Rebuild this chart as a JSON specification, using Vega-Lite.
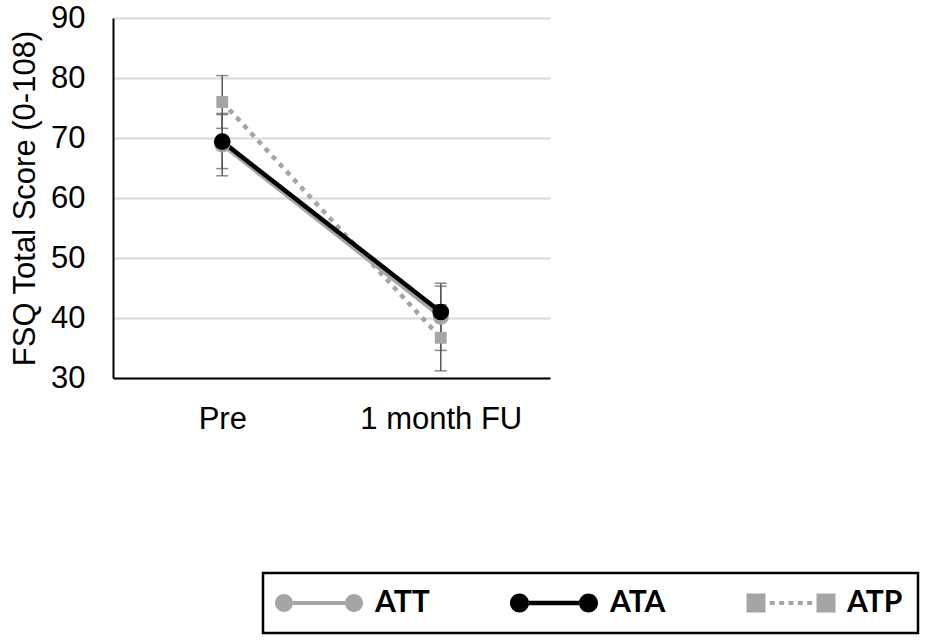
{
  "$schema": "https://vega.github.io/schema/vega-lite/v6.json",
  "width": 437,
  "height": 360,
  "autosize": {"type": "none"},
  "padding": {"left": 113, "top": 18, "right": 380, "bottom": 263},
  "background": "white",
  "config": {
    "view": {"stroke": null},
    "axis": {"labelFont": "Liberation Sans, Arial", "titleFont": "Liberation Sans, Arial", "labelColor": "black", "titleColor": "black"}
  },
  "data": {
    "values": [
      {"series": "ATT", "time": "Pre", "value": 68.9, "lo": 63.7, "hi": 74.1},
      {"series": "ATT", "time": "1 month FU", "value": 40.2, "lo": 34.6, "hi": 45.3},
      {"series": "ATA", "time": "Pre", "value": 69.4, "lo": 64.9, "hi": 73.9},
      {"series": "ATA", "time": "1 month FU", "value": 41.0, "lo": 36.2, "hi": 45.8},
      {"series": "ATP", "time": "Pre", "value": 76.0, "lo": 71.6, "hi": 80.4},
      {"series": "ATP", "time": "1 month FU", "value": 36.7, "lo": 31.2, "hi": 42.2}
    ]
  },
  "encoding": {
    "x": {
      "field": "time", "type": "nominal", "sort": ["Pre", "1 month FU"],
      "scale": {"type": "point", "padding": 0.5},
      "axis": {"title": null, "labelAngle": 0, "labelFontSize": 31, "labelPadding": 26, "ticks": false, "domainColor": "black", "domainWidth": 2, "grid": false}
    },
    "y": {
      "field": "value", "type": "quantitative",
      "scale": {"domain": [30, 90], "nice": false, "zero": false},
      "axis": {"title": "FSQ Total Score (0-108)", "titleFontSize": 31, "titleFontWeight": "normal", "titlePadding": 9, "values": [30, 40, 50, 60, 70, 80, 90], "labelFontSize": 31, "labelPadding": 28, "ticks": false, "domainColor": "black", "domainWidth": 2, "gridColor": "#D9D9D9", "gridWidth": 2}
    }
  },
  "layer": [
    {
      "mark": {"type": "rule", "color": "#595959", "strokeWidth": 1.5},
      "encoding": {"y": {"field": "lo", "type": "quantitative"}, "y2": {"field": "hi"}}
    },
    {
      "mark": {"type": "tick", "orient": "horizontal", "color": "#595959", "thickness": 1.5, "size": 12},
      "encoding": {"y": {"field": "lo", "type": "quantitative"}}
    },
    {
      "mark": {"type": "tick", "orient": "horizontal", "color": "#595959", "thickness": 1.5, "size": 12},
      "encoding": {"y": {"field": "hi", "type": "quantitative"}}
    },
    {
      "transform": [{"filter": "datum.series === 'ATT'"}],
      "mark": {"type": "line", "color": "#A5A5A5", "strokeWidth": 4}
    },
    {
      "transform": [{"filter": "datum.series === 'ATP'"}],
      "mark": {"type": "line", "color": "#A5A5A5", "strokeWidth": 4.5, "strokeDash": [5, 5.5], "strokeCap": "butt"}
    },
    {
      "transform": [{"filter": "datum.series === 'ATA'"}],
      "mark": {"type": "line", "color": "black", "strokeWidth": 4.5}
    },
    {
      "transform": [{"filter": "datum.series === 'ATT'"}],
      "mark": {"type": "point", "shape": "circle", "filled": true, "opacity": 1, "color": "#A5A5A5", "size": 256}
    },
    {
      "transform": [{"filter": "datum.series === 'ATP'"}],
      "mark": {"type": "point", "shape": "square", "filled": true, "opacity": 1, "color": "#A5A5A5", "size": 140}
    },
    {
      "transform": [{"filter": "datum.series === 'ATA'"}],
      "mark": {"type": "point", "shape": "circle", "filled": true, "opacity": 1, "color": "black", "size": 280}
    },
    {
      "mark": {"type": "point", "filled": true, "opacity": 0, "size": 400},
      "encoding": {
        "color": {
          "field": "series", "type": "nominal",
          "scale": {"domain": ["ATT", "ATA", "ATP"], "range": ["#A5A5A5", "#000000", "#A5A5A5"]},
          "legend": {"title": null, "orient": "none", "legendX": 150, "legendY": 555, "direction": "horizontal", "padding": 15, "symbolSize": 400, "symbolOffset": 26, "symbolOpacity": 1, "symbolStrokeWidth": 0, "labelOffset": 41, "columnPadding": 80, "labelFont": "Lato, Open Sans, Liberation Sans", "labelFontWeight": "bold", "labelFontSize": 30, "labelColor": "black", "strokeColor": "black", "encode": {"legend": {"update": {"stroke": {"value": "black"}, "strokeWidth": {"value": 2.5}}}}}
        },
        "shape": {
          "field": "series", "type": "nominal",
          "scale": {"domain": ["ATT", "ATA", "ATP"], "range": [
            "M-4.4,0A0.9,0.9,0,1,0,-2.6,0A0.9,0.9,0,1,0,-4.4,0Z M2.6,0A0.9,0.9,0,1,0,4.4,0A0.9,0.9,0,1,0,2.6,0Z M-2.62,-0.2L2.62,-0.2L2.62,0.2L-2.62,0.2Z",
            "M-4.4,0A0.95,0.95,0,1,0,-2.5,0A0.95,0.95,0,1,0,-4.4,0Z M2.5,0A0.95,0.95,0,1,0,4.4,0A0.95,0.95,0,1,0,2.5,0Z M-2.52,-0.22L2.52,-0.22L2.52,0.22L-2.52,0.22Z",
            "M-4.45,-0.95L-2.55,-0.95L-2.55,0.95L-4.45,0.95Z M2.55,-0.95L4.45,-0.95L4.45,0.95L2.55,0.95Z M-2.12,-0.2L-1.62,-0.2L-1.62,0.2L-2.12,0.2Z M-1.18,-0.2L-0.68,-0.2L-0.68,0.2L-1.18,0.2Z M-0.25,-0.2L0.25,-0.2L0.25,0.2L-0.25,0.2Z M0.68,-0.2L1.18,-0.2L1.18,0.2L0.68,0.2Z M1.62,-0.2L2.12,-0.2L2.12,0.2L1.62,0.2Z"
          ]},
          "legend": {"title": null, "orient": "none", "legendX": 150, "legendY": 555, "direction": "horizontal", "padding": 15, "symbolSize": 400, "symbolOffset": 26, "symbolOpacity": 1, "symbolStrokeWidth": 0, "labelOffset": 41, "columnPadding": 80, "labelFont": "Lato, Open Sans, Liberation Sans", "labelFontWeight": "bold", "labelFontSize": 30, "labelColor": "black", "strokeColor": "black", "encode": {"legend": {"update": {"stroke": {"value": "black"}, "strokeWidth": {"value": 2.5}}}}}
        }
      }
    }
  ]
}
